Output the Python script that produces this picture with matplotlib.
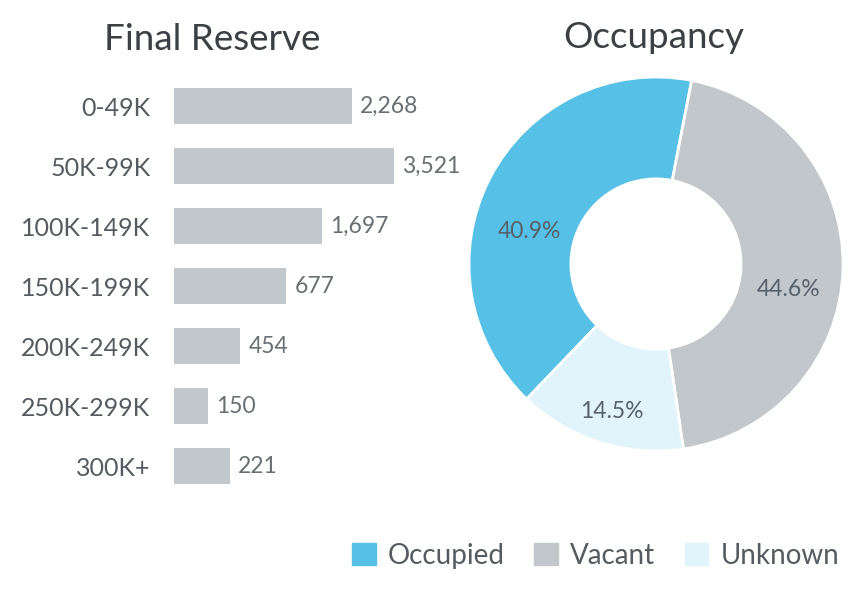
import matplotlib
matplotlib.use("Agg")
import matplotlib.pyplot as plt
import matplotlib.patches as mpatches

plt.rcParams['font.family'] = ['Lato', 'DejaVu Sans']

# data
reserve_cats = ['0-49K', '50K-99K', '100K-149K', '150K-199K', '200K-249K', '250K-299K', '300K+']
reserve_labels = [2268, 3521, 1697, 677, 454, 150, 221]
# bar lengths as drawn in the picture (they do not follow the printed numbers)
bar_length = [2268, 2803, 1886, 1427, 841, 433, 714]

occ_cats = ['Occupied', 'Vacant', 'Unknown']
occ_pct = [40.9, 44.6, 14.5]

txt = '#555b60'
bar_col = '#c1c7ca'
occ_cols = ['#56c0e6', '#c1c7ca', '#e2f4fb']

W, H = 856, 616
fig = plt.figure(figsize=(W / 100, H / 100), dpi=100)

# bar chart
ax = fig.add_axes([174 / W, (H - 496) / H, 286 / W, 420 / H])
ypos = list(range(len(reserve_cats)))
ax.barh(ypos, bar_length, height=0.6, color=bar_col)
ax.set_xlim(0, 286 * 2268 / 178)
ax.set_ylim(6.5, -0.5)
ax.set_yticks(ypos)
ax.set_yticklabels(reserve_cats, fontsize=18, color=txt)
ax.tick_params(axis='y', length=0, pad=17)
ax.set_xticks([])
for s in ax.spines.values():
    s.set_visible(False)
for y, v, lab in zip(ypos, bar_length, reserve_labels):
    ax.annotate(f'{lab:,}', (v, y), xytext=(6, 0), textcoords='offset points',
                va='center', ha='left', fontsize=16.5, color='#6a6f74')
fig.text(212 / W, 1 - 40 / H, 'Final Reserve', ha='center', va='center',
         fontsize=26.5, color='#3c4044')

# donut
cx, cy, r = 656, 264, 187
pax = fig.add_axes([(cx - r) / W, (H - cy - r) / H, 2 * r / W, 2 * r / H])
start = 90 - 11 + occ_pct[0] * 3.6
wedges, _ = pax.pie(occ_pct, colors=occ_cols, startangle=start, counterclock=False,
                    wedgeprops=dict(width=0.545, edgecolor='white', linewidth=2))
pax.set_xlim(-1, 1)
pax.set_ylim(-1, 1)
pax.set_aspect('equal')
label_xy = [(-0.677, 0.172), (0.71, -0.134), (-0.237, -0.79)]
for (lx, ly), p in zip(label_xy, occ_pct):
    pax.text(lx, ly, f'{p:.1f}%', ha='center', va='center', fontsize=16.5,
             color='#56616c')
fig.text(654 / W, 1 - 38 / H, 'Occupancy', ha='center', va='center',
         fontsize=26.5, color='#3c4044')

handles = [mpatches.Patch(color=c, label=l) for c, l in zip(occ_cols, occ_cats)]
fig.legend(handles=handles, loc='center left', bbox_to_anchor=(352 / W, 1 - 556 / H),
           ncol=3, frameon=False, handlelength=0.85, handleheight=0.85,
           handletextpad=0.45, columnspacing=1.05, borderpad=0, borderaxespad=0,
           labelcolor=txt, prop=dict(size=20))

fig.savefig('out.png', dpi=100)
